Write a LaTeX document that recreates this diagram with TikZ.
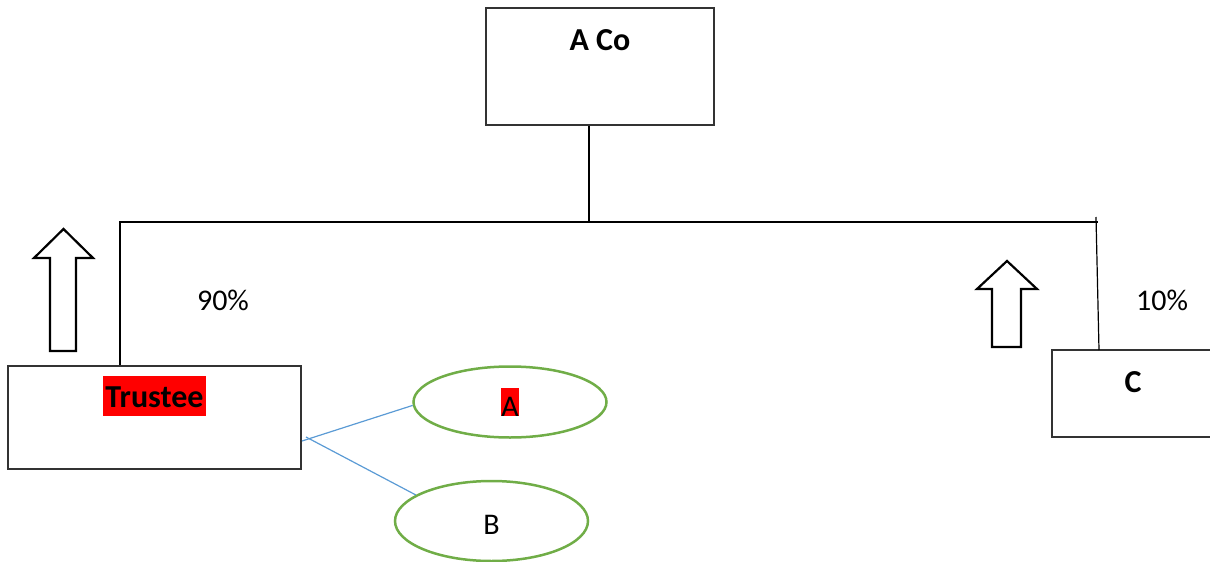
\documentclass[tikz,border=0pt]{standalone}
\usepackage{fontspec}
\setmainfont{Carlito}
\usetikzlibrary{shapes}

\definecolor{leafgreen}{HTML}{70AD47}
\definecolor{linkblue}{HTML}{5B9BD5}
% red highlight: text, depth, total height
\newcommand{\hlred}[3]{{\setlength{\fboxsep}{0pt}\colorbox{red}{\rule[-#2]{0pt}{#3}#1}}}

\begin{document}
\begin{tikzpicture}[%
    x=1pt, y=-1pt,              % Work in pixels, top-down
    every node/.style={font=\fontsize{30}{36}\selectfont},
    ]
% -------------------------------------------------
% A few box styles
\tikzset{
  base/.style={draw=black!80, line width=1.2pt, inner sep=0pt},
  box/.style={base, rectangle, font=\fontsize{32}{38}\selectfont\bfseries},
  leaf/.style={draw=leafgreen, line width=2.5pt, ellipse, inner sep=0pt,
    minimum width=193pt},
  % Connector line styles
  norm/.style={draw, line width=1.2pt},
  link/.style={draw=linkblue, line width=1.2pt},
  blockarrow/.style={draw, line width=2.2pt, line join=miter},
  pct/.style={anchor=base}
}
\useasboundingbox (0,0) rectangle (1210,562);
% -------------------------------------------------
% Start by placing the nodes
\node [box, minimum width=228pt, text height=42pt, text depth=75pt] (aco) at (600,66.5) {A Co};
\node [box, minimum width=293pt, text height=41pt, text depth=62pt] (trustee) at (154.5,417.5) {\hlred{\kern2pt Trustee\kern2pt}{9pt}{40pt}};
\node [box, minimum width=162pt, text height=42pt, text depth=45pt] (c) at (1133,393.5) {C};
\node [leaf, minimum height=71pt, text height=28pt, text depth=0pt] (a) at (510,402) {\hlred{A}{0pt}{28pt}};
\node [leaf, minimum height=80pt, text height=26pt, text depth=0pt] (b) at (491.5,521) {B};
\node [pct] (p90) at (223,310) {90\%};
\node [pct] (p10) at (1162,310) {10\%};

% Joints of the ownership lines
\coordinate (hub) at (589,222);
\coordinate (lft) at (120,222);
\coordinate (rgt) at (1098,222);
\coordinate (rtick) at (1096,217);
\coordinate (cjoin) at (1099,350);
\coordinate (forka) at (302,441);
\coordinate (forkb) at (306,437);

\draw[norm] (aco.south -| hub) -- (hub);
\draw[norm] (trustee.north -| lft) -- (lft) -- (rgt);
\draw[norm] (rtick) -- (cjoin);
\draw[link] (forka) -- (a.182);
\draw[link] (forkb) -- (b.161);

% Hollow up arrows
\draw[blockarrow] (63.5,229) -- (93,258) -- (76,258) -- (76,351) -- (50,351) -- (50,258) -- (34,258) -- cycle;
\draw[blockarrow] (1007,261) -- (1037,289) -- (1021,289) -- (1021,347) -- (992,347) -- (992,289) -- (977,289) -- cycle;

% -------------------------------------------------
\end{tikzpicture}
\end{document}
